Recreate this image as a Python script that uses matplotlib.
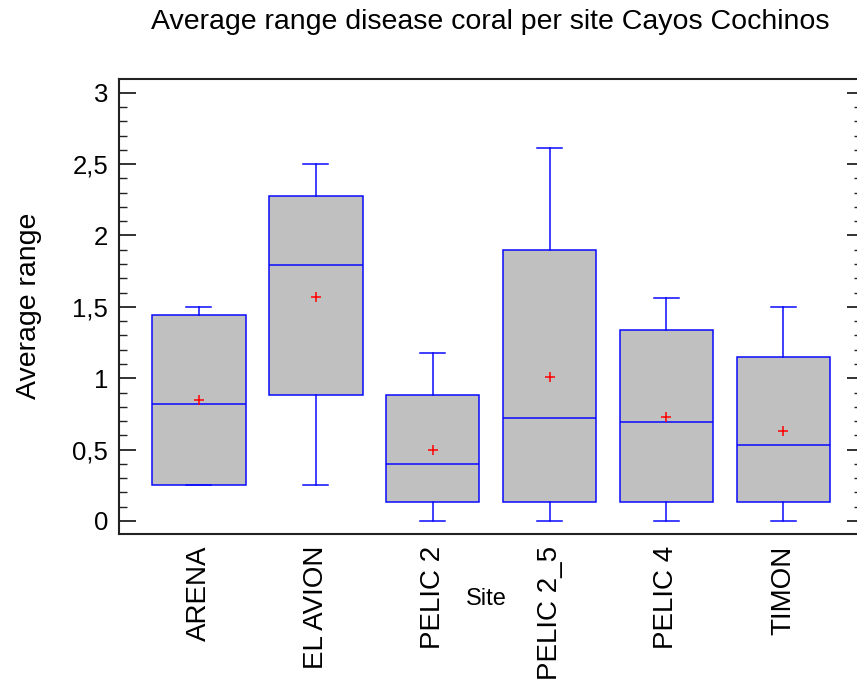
import numpy as np
import matplotlib.pyplot as plt
from matplotlib.ticker import MultipleLocator

plt.rcParams['font.family'] = ['Liberation Sans', 'DejaVu Sans']

# box plot statistics per site
sites = ['ARENA', 'EL AVION', 'PELIC 2', 'PELIC 2_5', 'PELIC 4', 'TIMON']
whislo = [0.25, 0.25, 0.0, 0.0, 0.0, 0.0]
q1 = [0.25, 0.88, 0.13, 0.13, 0.13, 0.13]
med = [0.82, 1.79, 0.40, 0.72, 0.69, 0.53]
mean = [0.85, 1.57, 0.50, 1.01, 0.73, 0.63]
q3 = [1.44, 2.28, 0.88, 1.90, 1.34, 1.15]
whishi = [1.50, 2.50, 1.18, 2.61, 1.56, 1.50]

yticks = [0, 0.5, 1, 1.5, 2, 2.5, 3]
ytick_labels = ['0', '0,5', '1', '1,5', '2', '2,5', '3']

fig = plt.figure(figsize=(8.57, 6.86), dpi=100)
ax = fig.add_axes([0.1394, 0.2216, 0.8606, 0.6628])

stats = []
for i in range(len(sites)):
    stats.append(dict(label=sites[i], whislo=whislo[i], q1=q1[i], med=med[i],
                      mean=mean[i], q3=q3[i], whishi=whishi[i], fliers=[]))

blue = '#0a0aff'
pos = np.arange(1, len(sites) + 1)
ax.bxp(stats, positions=pos, widths=0.8, capwidths=0.214, patch_artist=True,
       showmeans=True, showfliers=False,
       boxprops=dict(facecolor='#c0c0c0', edgecolor=blue, linewidth=1.1),
       medianprops=dict(color=blue, linewidth=1.1),
       whiskerprops=dict(color=blue, linewidth=1.1),
       capprops=dict(color=blue, linewidth=1.1),
       meanprops=dict(marker='+', markeredgecolor='red', markersize=7,
                      markeredgewidth=1.1))

ax.set_xlim(0.32, 6.63)
ax.set_ylim(-0.091, 3.094)

# y axis ticks, inward
ax.set_yticks(yticks)
ax.set_yticklabels(ytick_labels, fontsize=18.5)
ax.yaxis.set_minor_locator(MultipleLocator(0.1))
ax.tick_params(axis='y', which='major', direction='in', length=12, width=1.3,
               pad=8, color='#222222')
ax.tick_params(axis='y', which='minor', direction='in', length=6, width=1.0,
               color='#222222')

ax.set_xticks(pos)
ax.set_xticklabels(sites, rotation=90, fontsize=20, va='top', ha='center')
ax.tick_params(axis='x', length=0, pad=8.6)

for s in ['left', 'top', 'bottom']:
    ax.spines[s].set_linewidth(1.5)
    ax.spines[s].set_color('#222222')
ax.spines['right'].set_visible(False)

# right side ticks (shorter)
ax2 = ax.twinx()
ax2.set_ylim(ax.get_ylim())
ax2.set_yticks(yticks)
ax2.set_yticklabels([])
ax2.yaxis.set_minor_locator(MultipleLocator(0.1))
ax2.tick_params(axis='y', which='major', direction='in', length=7, width=1.3,
                color='#222222')
ax2.tick_params(axis='y', which='minor', direction='in', length=2, width=1.0,
                color='#222222')
for s in ax2.spines.values():
    s.set_visible(False)

fig.text(490 / 857, 1 - 22 / 686, 'Average range disease coral per site Cayos Cochinos',
         ha='center', va='center', fontsize=20.5)
fig.text(29 / 857, 1 - 306 / 686, 'Average range', rotation=90,
         ha='center', va='center', fontsize=20.5)
fig.text(486 / 857, 1 - 599 / 686, 'Site', ha='center', va='center',
         fontsize=17, family=['Liberation Sans Narrow', 'Liberation Sans'])

fig.savefig('out.png', dpi=100)
